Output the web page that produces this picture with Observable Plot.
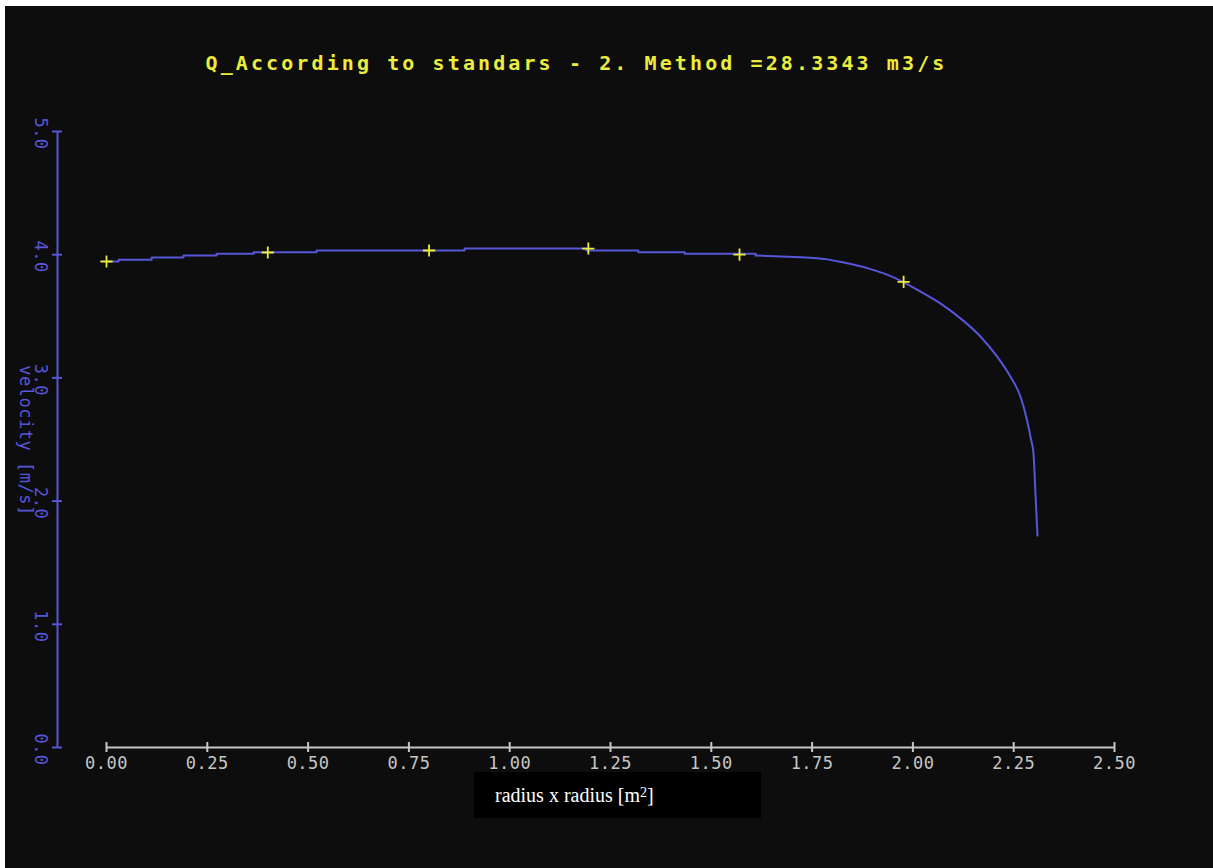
<!DOCTYPE html>
<html>
<head>
<meta charset="utf-8">
<script src="https://cdn.jsdelivr.net/npm/d3@7"></script>
<script src="https://cdn.jsdelivr.net/npm/@observablehq/plot@0.6"></script>
<style>
  html, body { margin: 0; padding: 0; background: #ffffff; }
  #wrap { position: absolute; left: 5px; top: 6px; width: 1208px; height: 862px; background: #0d0d0d; }
  #wrap svg { display: block; background: #0d0d0d; }
  svg .ttl text, svg text.ttl { letter-spacing: 3.1px; }
  svg .ticklbl text, svg text.ticklbl { letter-spacing: 0.5px; }
  #xlabel { position: absolute; left: 474px; top: 772px; width: 287px; height: 46px; background: #000000;
    color: #ffffff; font-family: "Liberation Serif", serif; font-size: 20px; display: flex; align-items: center;
    padding-left: 21px; box-sizing: border-box; }
  #xlabel sup { font-size: 14px; position: relative; top: -2px; }
</style>
</head>
<body>
<div id="wrap"></div>
<div id="xlabel">radius x radius [m<sup>2</sup>]</div>
<script>
// ---- data ----
const titleText = "Q_According to standars - 2. Method =28.3343 m3/s";
const yTitle = "velocity [m/s]";
const xTicks = [0, 0.25, 0.5, 0.75, 1.0, 1.25, 1.5, 1.75, 2.0, 2.25, 2.5];
const yTicks = [0, 1, 2, 3, 4, 5];
// measured points (yellow crosses)
const measX = [0, 0.40, 0.80, 1.195, 1.57, 1.977];
const measV = [3.945, 4.018, 4.034, 4.05, 4.0, 3.78];
// core part of fitted profile (stepped)
const coreX = [0, 0.030, 0.112, 0.191, 0.273, 0.365, 0.521, 0.888, 1.190, 1.319, 1.434, 1.61];
const coreV = [3.945, 3.96, 3.977, 3.994, 4.007, 4.02, 4.034, 4.05, 4.034, 4.02, 4.007, 3.994];
// wall part of fitted profile
const wallX = [1.61, 1.659, 1.746, 1.787, 1.820, 1.862, 1.895, 1.936, 1.975, 2.019, 2.068, 2.118, 2.168, 2.209, 2.242, 2.267, 2.282, 2.293, 2.299, 2.304, 2.309];
const wallV = [3.994, 3.987, 3.975, 3.962, 3.942, 3.912, 3.883, 3.838, 3.78, 3.70, 3.605, 3.483, 3.334, 3.172, 3.009, 2.847, 2.67, 2.50, 2.39, 2.06, 1.72];

const core = coreX.map((x, i) => ({x, v: coreV[i]}));
const wall = wallX.map((x, i) => ({x, v: wallV[i]}));
const meas = measX.map((x, i) => ({x, v: measV[i]}));

const blue = "#5656d8";
const grey = "#c6c6c6";
const yellow = "#ecec3c";
const mono = "DejaVu Sans Mono";

const chart = Plot.plot({
  width: 1208,
  height: 862,
  marginLeft: 101,
  marginRight: 99,
  marginTop: 125,
  marginBottom: 121,
  style: {background: "#0d0d0d"},
  x: {domain: [0, 2.5], axis: null},
  y: {domain: [0, 5], axis: null},
  marks: [
    // x axis
    Plot.ruleY([0], {x1: 0, x2: 2.5, stroke: grey, strokeWidth: 2}),
    Plot.ruleX(xTicks, {x: d => d, y1: 0, y2: 0, insetTop: -5, insetBottom: -5, stroke: grey, strokeWidth: 2}),
    Plot.text(xTicks, {x: d => d, y: 0, text: d => d.toFixed(2), dy: 16, fill: grey,
      fontFamily: mono, fontSize: 17, className: "ticklbl"}),
    // y axis (offset left of the frame)
    Plot.ruleX([0], {y1: 0, y2: 5, dx: -49, stroke: blue, strokeWidth: 2}),
    Plot.ruleY(yTicks, {y: d => d, x1: 0, x2: 0, dx: -49, insetLeft: -5, insetRight: -5, stroke: blue, strokeWidth: 2}),
    Plot.text(yTicks, {x: 0, y: d => d, text: d => d.toFixed(1), dx: -66, dy: 2, rotate: 90, fill: blue,
      fontFamily: mono, fontSize: 17, className: "ticklbl"}),
    Plot.text([yTitle], {frameAnchor: "left", text: d => d, dx: -81, dy: 1, rotate: 90, textAnchor: "middle",
      fill: blue, fontFamily: mono, fontSize: 17, className: "ticklbl"}),
    // profile
    Plot.line(core, {x: "x", y: "v", curve: "step-after", stroke: blue, strokeWidth: 2}),
    Plot.line(wall, {x: "x", y: "v", curve: "monotone-x", stroke: blue, strokeWidth: 2}),
    // measurement crosses
    Plot.dot(meas, {x: "x", y: "v", symbol: "plus", r: 4, stroke: yellow, strokeWidth: 1.8}),
    // title
    Plot.text([titleText], {frameAnchor: "top-left", text: d => d, dx: 99, dy: -68, textAnchor: "start",
      lineAnchor: "middle", fill: yellow, fontFamily: mono, fontWeight: "bold", fontSize: 20, className: "ttl"})
  ]
});
document.getElementById("wrap").appendChild(chart);
</script>
</body>
</html>
